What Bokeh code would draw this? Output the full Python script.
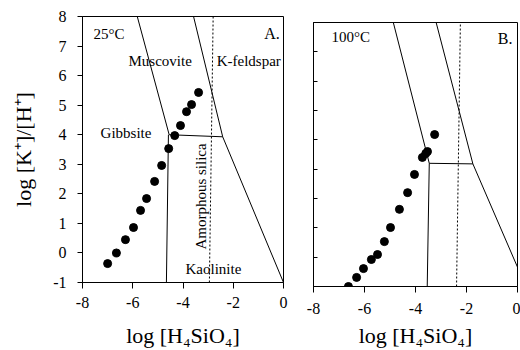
from bokeh.plotting import figure
from bokeh.layouts import row, column
from bokeh.models import FixedTicker, Spacer
from bokeh.core.properties import value
from bokeh.embed import file_html
from bokeh.resources import INLINE

FONT = "Liberation Serif"

# ---- Panel A (25 °C) ----
a_si = [-7.0, -6.65, -6.29, -5.97, -5.69, -5.45, -5.13, -4.85, -4.57, -4.33, -4.1, -3.86, -3.66, -3.38]
a_k = [-0.36, 0.0, 0.45, 0.86, 1.44, 1.84, 2.42, 2.96, 3.53, 3.97, 4.31, 4.78, 5.02, 5.43]

a_gib_mus_x = [-5.82, -4.55]
a_gib_mus_y = [8.0, 4.0]
a_gib_kao_x = [-4.58, -4.66]
a_gib_kao_y = [4.0, -1.0]
a_mus_kao_x = [-4.55, -2.42]
a_mus_kao_y = [4.0, 3.93]
a_mus_kf_x = [-3.58, -2.42]
a_mus_kf_y = [8.0, 3.93]
a_kao_kf_x = [-2.42, 0.0]
a_kao_kf_y = [3.93, -1.0]
a_sil_x = [-2.95, -2.8]
a_sil_y = [-1.0, 8.0]

# ---- Panel B (100 °C) ----
b_si = [-6.63, -6.31, -6.04, -5.73, -5.49, -5.22, -4.98, -4.63, -4.31, -4.04, -3.73, -3.6, -3.53, -3.25]
b_k = [-1.0, -0.69, -0.39, -0.08, 0.09, 0.53, 1.01, 1.63, 2.2, 2.82, 3.4, 3.53, 3.6, 4.18]

b_gib_mus_x = [-4.87, -3.46]
b_gib_mus_y = [8.0, 3.2]
b_gib_kao_x = [-3.46, -3.54]
b_gib_kao_y = [3.2, -1.0]
b_mus_kao_x = [-3.46, -1.75]
b_mus_kao_y = [3.2, 3.18]
b_mus_kf_x = [-3.19, -1.75]
b_mus_kf_y = [8.0, 3.18]
b_kao_kf_x = [-1.75, 0.0]
b_kao_kf_y = [3.18, -0.34]
b_sil_x = [-2.39, -2.24]
b_sil_y = [-1.0, 8.0]

x_ticks = [-8, -6, -4, -2, 0]
x_tick_labels = ["-8", "-6", "-4", "-2", "0"]
y_ticks = [-1, 0, 1, 2, 3, 4, 5, 6, 7, 8]
y_tick_labels = ["-1", "0", "1", "2", "3", "4", "5", "6", "7", "8"]

# labels
a_lab_text = ["25°C", "Muscovite", "K-feldspar", "Gibbsite", "Kaolinite"]
a_lab_x = [-7.56, -6.17, -2.66, -7.28, -3.9]
a_lab_y = [7.42, 6.48, 6.48, 4.07, -0.53]


def style(p, ylabels, lab_standoff, title_standoff):
    p.outline_line_color = "black"
    p.outline_line_width = 1
    p.xgrid.visible = False
    p.ygrid.visible = False
    p.background_fill_color = "white"
    p.border_fill_color = "white"
    p.xaxis.ticker = FixedTicker(ticks=x_ticks)
    p.yaxis.ticker = FixedTicker(ticks=y_ticks)
    for ax in (p.xaxis, p.yaxis):
        ax.axis_line_color = "black"
        ax.major_tick_line_color = "black"
        ax.minor_tick_line_color = None
        ax.major_label_text_font = FONT
        ax.major_label_text_font_size = "16px"
        ax.major_label_text_color = "black"
        ax.axis_label_text_font = FONT
        ax.axis_label_text_font_style = "normal"
        ax.axis_label_text_font_size = "22px"
        ax.axis_label_text_color = "black"
    p.xaxis.major_label_overrides = {t: s for t, s in zip(x_ticks, x_tick_labels)}
    p.xaxis.major_tick_out = 6
    p.xaxis.major_tick_in = 0
    p.xaxis.major_label_standoff = lab_standoff
    p.xaxis.axis_label = "log [H₄SiO₄]"
    p.xaxis.axis_label_standoff = title_standoff
    if ylabels:
        p.yaxis.major_label_overrides = {t: s for t, s in zip(y_ticks, y_tick_labels)}
        p.yaxis.major_tick_out = 5
        p.yaxis.major_tick_in = 0
        p.yaxis.major_label_standoff = 11
        p.yaxis.axis_label = "log [K⁺]/[H⁺]"
        p.yaxis.axis_label_standoff = 14
    else:
        p.yaxis.major_label_overrides = {t: "" for t in y_ticks}
        p.yaxis.major_tick_out = 0
        p.yaxis.major_tick_in = 4
        p.yaxis.major_label_standoff = 0


def lines(p, segs, sil_x, sil_y):
    for xs, ys in segs:
        p.line(xs, ys, line_color="black", line_width=1)
    p.line(sil_x, sil_y, line_color="black", line_width=1, line_dash="2 2")


pA = figure(width=290, height=350, x_range=(-8, 0), y_range=(-1, 8), title=None,
            output_backend="svg", toolbar_location=None,
            min_border_left=82, min_border_right=7, min_border_top=16, min_border_bottom=68)
style(pA, True, 8, 12)
lines(pA, [(a_gib_mus_x, a_gib_mus_y), (a_gib_kao_x, a_gib_kao_y), (a_mus_kao_x, a_mus_kao_y),
           (a_mus_kf_x, a_mus_kf_y), (a_kao_kf_x, a_kao_kf_y)], a_sil_x, a_sil_y)
pA.scatter(a_si, a_k, size=8, color="black")
pA.text(a_lab_x, a_lab_y, text=a_lab_text, text_font=value(FONT), text_font_size="15px",
        text_baseline="middle", text_align="left", text_color="black")
pA.text([-0.15], [7.42], text=["A."], text_font=value(FONT), text_font_size="16px",
        text_baseline="middle", text_align="right", text_color="black")
pA.text([-3.27], [1.91], text=["Amorphous silica"], angle=1.5708, text_font=value(FONT),
        text_font_size="15px", text_baseline="middle", text_align="center", text_color="black")

pB = figure(width=230, height=344, x_range=(-8, 0), y_range=(-1, 8), title=None,
            output_backend="svg", toolbar_location=None,
            min_border_left=23, min_border_right=3, min_border_top=16, min_border_bottom=64)
style(pB, False, 10, 6)
lines(pB, [(b_gib_mus_x, b_gib_mus_y), (b_gib_kao_x, b_gib_kao_y), (b_mus_kao_x, b_mus_kao_y),
           (b_mus_kf_x, b_mus_kf_y), (b_kao_kf_x, b_kao_kf_y)], b_sil_x, b_sil_y)
pB.scatter(b_si, b_k, size=8, color="black")
pB.text([-7.29], [7.52], text=["100°C"], text_font=value(FONT), text_font_size="15px",
        text_baseline="middle", text_align="left", text_color="black")
pB.text([-0.2], [7.46], text=["B."], text_font=value(FONT), text_font_size="16px",
        text_baseline="middle", text_align="right", text_color="black")

layout = row(pA, column(Spacer(width=230, height=6), pB))
open("out.html", "w").write(file_html(layout, INLINE))
